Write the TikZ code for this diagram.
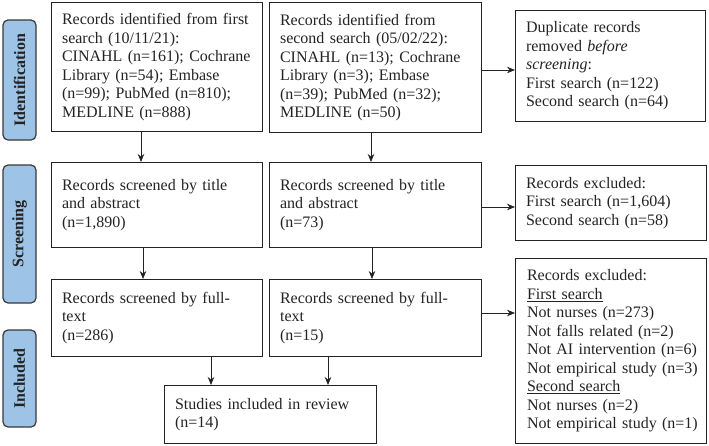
\documentclass[tikz,border=0pt]{standalone}
\usepackage{fontspec}
\setmainfont{Liberation Serif}
\usetikzlibrary{arrows.meta}
\definecolor{labblue}{RGB}{157,195,230}
\definecolor{ink}{RGB}{35,35,35}
\begin{document}
\begin{tikzpicture}[x=1pt,y=-1pt,
 box/.style={draw=ink, line width=1.1pt, anchor=north west, inner xsep=10.5pt, inner ysep=0pt, align=left, font=\fontsize{16}{18.5}\selectfont, text=ink},
 lab/.style={draw=ink!90, line width=1.2pt, fill=labblue, rounded corners=5pt, rotate=90, inner sep=0pt, font=\fontsize{16}{18}\selectfont\bfseries, text=ink},
 arr/.style={-{Stealth[length=8pt,width=6.5pt]}, line width=0.8pt, draw=ink}]
\useasboundingbox (0,0) rectangle (709,445);
% phase labels
\node[lab, minimum width=120pt, minimum height=33pt] (lid) at (19.5,80) {Identification};
\node[lab, minimum width=138pt, minimum height=33pt] (lsc) at (19.5,234) {Screening};
\node[lab, minimum width=97pt, minimum height=33pt] (lin) at (19.5,378.5) {Included};
% boxes
\node[box, text width=190pt, minimum height=129pt] (A) at (51,2) {Records identified from first\\search (10/11/21):\\CINAHL (n=161); Cochrane\\Library (n=54); Embase\\(n=99); PubMed (n=810);\\MEDLINE (n=888)};
\node[box, text width=191pt, minimum height=130pt] (B) at (269,2) {Records identified from\\second search (05/02/22):\\CINAHL (n=13); Cochrane\\Library (n=3); Embase\\(n=39); PubMed (n=32);\\MEDLINE (n=50)};
\node[box, text width=169pt, minimum height=111pt] (C) at (515,10) {Duplicate records\\removed \textit{before}\\\textit{screening}:\\First search (n=122)\\Second search (n=64)};
\node[box, text width=190pt, minimum height=85pt] (D) at (51,162) {Records screened by title\\and abstract\\(n=1,890)};
\node[box, text width=191pt, minimum height=85pt] (E) at (269,162) {Records screened by title\\and abstract\\(n=73)};
\node[box, text width=170pt, minimum height=75pt] (F) at (515,165) {Records excluded:\\First search (n=1,604)\\Second search (n=58)};
\node[box, text width=190pt, minimum height=77pt] (G) at (51,279) {Records screened by full-\\text\\(n=286)};
\node[box, text width=191pt, minimum height=77pt] (H) at (269,279) {Records screened by full-\\text\\(n=15)};
\node[box, inner xsep=0pt, text width=191pt, minimum height=185pt] (I) at (515,258) {\hspace*{11.5pt}\parbox{178pt}{\raggedright Records excluded:\\\underline{First search}\\Not nurses (n=273)\\Not falls related (n=2)\\Not AI intervention (n=6)\\Not empirical study (n=3)\\\underline{Second search}\\Not nurses (n=2)\\Not empirical study (n=1)}};
\node[box, text width=191pt, minimum height=58pt] (S) at (164,385) {Studies included in review\\(n=14)};
% arrow x positions
\coordinate (xa) at (141,0);
\coordinate (xb) at (371,0);
\coordinate (xd) at (143,0);
\coordinate (xe) at (372,0);
\coordinate (xg) at (211,0);
\coordinate (xh) at (328,0);
\coordinate (y1) at (0,70);
\coordinate (y2) at (0,207);
\coordinate (y3) at (0,313);
% connectors
\draw[arr] (A.south -| xa) -- (D.north -| xa);
\draw[arr] (B.south -| xb) -- (E.north -| xb);
\draw[arr] (D.south -| xd) -- (G.north -| xd);
\draw[arr] (E.south -| xe) -- (H.north -| xe);
\draw[arr] (G.south -| xg) -- (S.north -| xg);
\draw[arr] (H.south -| xh) -- (S.north -| xh);
\draw[arr] (B.east |- y1) -- (C.west |- y1);
\draw[arr] (E.east |- y2) -- (F.west |- y2);
\draw[arr] (H.east |- y3) -- (I.west |- y3);
\end{tikzpicture}
\end{document}
